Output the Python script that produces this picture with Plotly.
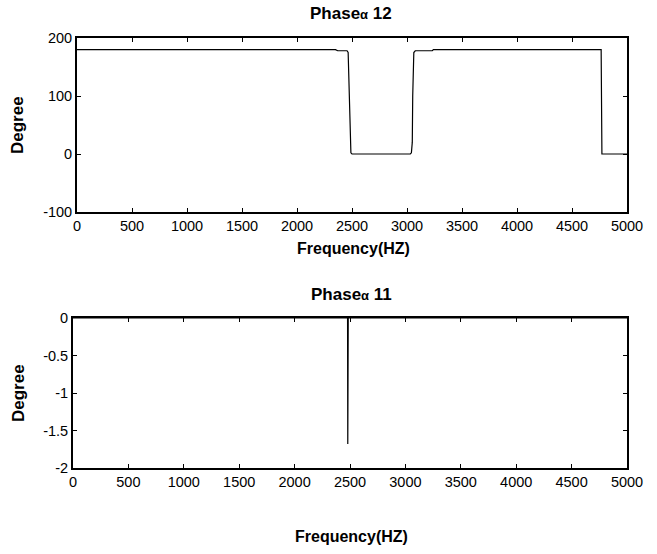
import plotly.graph_objects as go

# ---- data ----
freq_a12 = [0, 2350, 2370, 2455, 2465, 2472, 2478, 2482, 2490, 2500, 3030, 3040, 3048, 3052, 3056, 3062, 3075, 3230, 3240, 4765, 4772, 5000]
phase_a12 = [180, 180, 178, 178, 175, 120, 60, 20, 2, 0, 0, 2, 20, 100, 150, 175, 178, 178, 180, 180, 0, 0]

freq_a11 = [0, 2478, 2480, 2482, 2484, 5000]
phase_a11 = [0, 0, -1.68, -0.02, 0, 0]

x_ticks = [0, 500, 1000, 1500, 2000, 2500, 3000, 3500, 4000, 4500, 5000]
x_ticktext = ["0", "500", "1000", "1500", "2000", "2500", "3000", "3500", "4000", "4500", "5000"]
y1_ticks = [-100, 0, 100, 200]
y1_ticktext = ["-100", "0", "100", "200"]
y2_ticks = [-2, -1.5, -1, -0.5, 0]
y2_ticktext = ["-2", "-1.5", "-1", "-0.5", "0"]

title_top = "Phase<span style='font-size:13px'>α</span> 12"
title_bottom = "Phase<span style='font-size:13px'>α</span> 11"
x_title = "Frequency(HZ)"
y_title = "Degree"

W, H = 657, 554
FONT = "Liberation Sans, Arial, sans-serif"

fig = go.Figure()
fig.add_trace(go.Scatter(x=freq_a12, y=phase_a12, mode="lines",
                         line=dict(color="black", width=1.2), xaxis="x", yaxis="y",
                         showlegend=False, hoverinfo="skip"))
fig.add_trace(go.Scatter(x=freq_a11, y=phase_a11, mode="lines",
                         line=dict(color="black", width=1.2), xaxis="x2", yaxis="y2",
                         showlegend=False, hoverinfo="skip"))

def px_x(p):
    return p / W

def px_y(p):
    return 1 - p / H

axis_common = dict(showline=True, linecolor="black", linewidth=1.8, mirror="ticks",
                   ticks="inside", ticklen=4, tickwidth=1, tickcolor="black",
                   showgrid=False, zeroline=False, automargin=False,
                   tickfont=dict(family=FONT, size=14.5, color="black"))

fig.update_layout(
    template="none",
    width=W, height=H, autosize=False,
    margin=dict(l=0, r=0, t=0, b=0, pad=0),
    paper_bgcolor="white", plot_bgcolor="white",
    showlegend=False,
    xaxis=dict(domain=[px_x(77), px_x(627)], range=[0, 5000], anchor="y",
               tickvals=x_ticks, ticktext=x_ticktext, **axis_common),
    yaxis=dict(domain=[px_y(212), px_y(38)], range=[-100, 200], anchor="x",
               tickvals=y1_ticks, ticktext=y1_ticktext, **axis_common),
    xaxis2=dict(domain=[px_x(73), px_x(627)], range=[0, 5000], anchor="y2",
                tickvals=x_ticks, ticktext=x_ticktext, **axis_common),
    yaxis2=dict(domain=[px_y(468), px_y(318)], range=[-2, 0], anchor="x2",
                tickvals=y2_ticks, ticktext=y2_ticktext, **axis_common),
)

ann = []
def text(x, y, s, size, bold=True, angle=0):
    ann.append(dict(x=px_x(x), y=px_y(y), xref="paper", yref="paper", text=(f"<b>{s}</b>" if bold else s),
                    showarrow=False, xanchor="center", yanchor="middle", textangle=angle,
                    font=dict(family=FONT, size=size, color="black")))

text(351, 13, title_top, 17)
text(351, 294, title_bottom, 17)
text(353, 249, x_title, 16)
text(351, 536, x_title, 16)
text(18, 125, y_title, 17, angle=-90)
text(18, 393, y_title, 17, angle=-90)
fig.update_layout(annotations=ann)

fig.write_html("out.html")
